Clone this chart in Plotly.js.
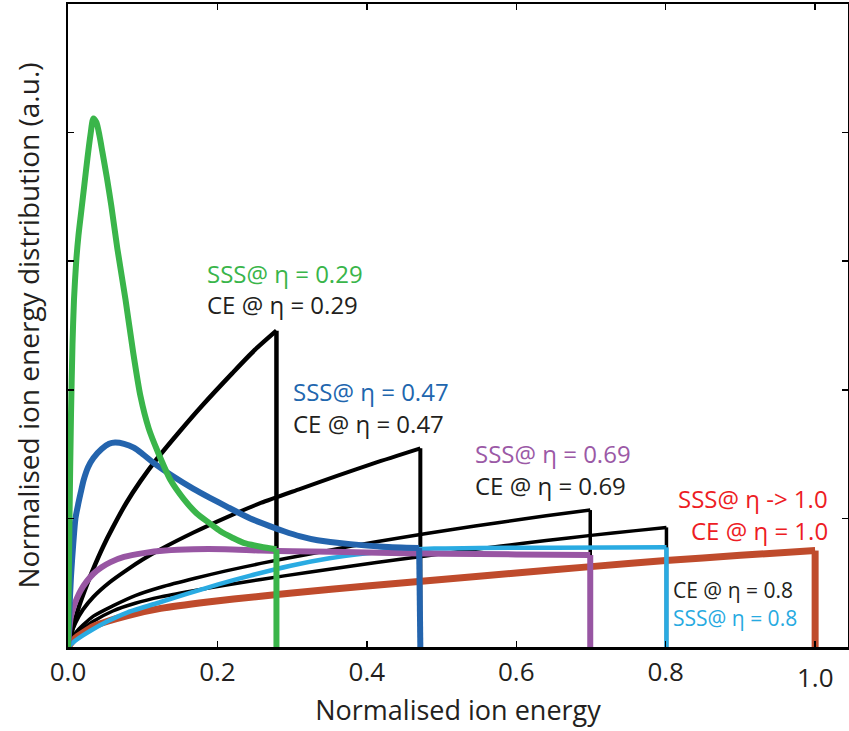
<!DOCTYPE html>
<html>
<head>
<meta charset="utf-8">
<script src="https://cdn.plot.ly/plotly-3.0.1.min.js"></script>
<style>html,body{margin:0;padding:0;background:#fff;}#chart{width:849px;height:731px;}</style>
</head>
<body>
<div id="chart"></div>
<script>
// ---- Data ----
const ce029X = [0, 0.005, 0.015, 0.025, 0.034, 0.047, 0.060, 0.078, 0.097, 0.120, 0.150, 0.180, 0.220, 0.250, 0.279, 0.279];
const ce029Y = [0, 0.12, 0.32, 0.48, 0.61, 0.78, 0.93, 1.12, 1.29, 1.47, 1.68, 1.88, 2.13, 2.31, 2.46, 0];

const ce047X = [0, 0.004, 0.010, 0.020, 0.034, 0.055, 0.079, 0.100, 0.124, 0.168, 0.213, 0.258, 0.311, 0.360, 0.410, 0.4716, 0.4716];
const ce047Y = [0, 0.10, 0.19, 0.29, 0.39, 0.50, 0.60, 0.68, 0.76, 0.89, 1.01, 1.12, 1.23, 1.33, 1.43, 1.545, 0];

const ce069X = [0, 0.004, 0.010, 0.020, 0.034, 0.060, 0.090, 0.124, 0.170, 0.210, 0.258, 0.320, 0.380, 0.445, 0.510, 0.580, 0.640, 0.699, 0.699];
const ce069Y = [0, 0.06, 0.11, 0.17, 0.24, 0.32, 0.40, 0.465, 0.535, 0.59, 0.65, 0.72, 0.785, 0.85, 0.91, 0.97, 1.02, 1.065, 0];

const ce08X = [0, 0.004, 0.010, 0.020, 0.034, 0.060, 0.090, 0.124, 0.170, 0.210, 0.258, 0.320, 0.380, 0.445, 0.512, 0.580, 0.640, 0.700, 0.760, 0.801, 0.801];
const ce08Y = [0, 0.05, 0.09, 0.14, 0.20, 0.28, 0.34, 0.39, 0.44, 0.48, 0.525, 0.58, 0.63, 0.682, 0.734, 0.785, 0.828, 0.868, 0.905, 0.93, 0];

const sss10X = [0, 0.010, 0.020, 0.034, 0.053, 0.080, 0.124, 0.187, 0.258, 0.300, 0.400, 0.500, 0.600, 0.700, 0.800, 0.900, 1.000, 1.000];
const sss10Y = [0, 0.07, 0.11, 0.16, 0.20, 0.245, 0.30, 0.35, 0.395, 0.42, 0.475, 0.525, 0.575, 0.625, 0.672, 0.713, 0.75, 0];

const sss08X = [0, 0.010, 0.020, 0.034, 0.053, 0.080, 0.124, 0.160, 0.200, 0.244, 0.298, 0.350, 0.400, 0.445, 0.490, 0.550, 0.650, 0.801, 0.801];
const sss08Y = [0, 0.05, 0.09, 0.14, 0.20, 0.27, 0.35, 0.415, 0.485, 0.555, 0.632, 0.69, 0.728, 0.752, 0.765, 0.77, 0.772, 0.775, 0];

const sss069X = [0, 0.002, 0.004, 0.008, 0.012, 0.017, 0.025, 0.034, 0.045, 0.057, 0.075, 0.101, 0.130, 0.168, 0.210, 0.258, 0.300, 0.400, 0.500, 0.600, 0.699, 0.699];
const sss069Y = [0, 0.15, 0.24, 0.32, 0.38, 0.44, 0.51, 0.57, 0.62, 0.66, 0.70, 0.73, 0.75, 0.76, 0.76, 0.75, 0.745, 0.735, 0.725, 0.72, 0.715, 0];

const sss047X = [0, 0.002, 0.004, 0.007, 0.010, 0.014, 0.017, 0.021, 0.027, 0.034, 0.045, 0.055, 0.063, 0.075, 0.088, 0.100, 0.115, 0.140, 0.168, 0.190, 0.213, 0.244, 0.270, 0.289, 0.311, 0.334, 0.378, 0.422, 0.470, 0.4716];
const sss047Y = [0, 0.30, 0.55, 0.80, 1.00, 1.12, 1.20, 1.30, 1.40, 1.47, 1.54, 1.58, 1.59, 1.58, 1.55, 1.50, 1.43, 1.33, 1.23, 1.16, 1.09, 1.00, 0.94, 0.90, 0.86, 0.83, 0.80, 0.78, 0.77, 0];

const sss029X = [0, 0.002, 0.004, 0.006, 0.008, 0.011, 0.014, 0.018, 0.022, 0.026, 0.030, 0.034, 0.038, 0.042, 0.046, 0.052, 0.058, 0.066, 0.077, 0.087, 0.097, 0.108, 0.120, 0.137, 0.155, 0.172, 0.190, 0.204, 0.220, 0.235, 0.258, 0.279, 0.279];
const sss029Y = [0, 1.00, 1.80, 2.35, 2.70, 3.00, 3.20, 3.40, 3.60, 3.80, 3.98, 4.11, 4.08, 3.98, 3.85, 3.65, 3.43, 3.10, 2.70, 2.30, 1.95, 1.70, 1.52, 1.30, 1.15, 1.04, 0.96, 0.90, 0.85, 0.81, 0.78, 0.76, 0];

const xTickVals = [0, 0.2, 0.4, 0.6, 0.8, 1.0];
const xTickText = ['0.0', '0.2', '0.4', '0.6', '0.8', ''];
const yTickVals = [1, 2, 3, 4];

const labelTexts = ['SSS@ η = 0.29', 'CE @ η = 0.29', 'SSS@ η = 0.47', 'CE @ η = 0.47',
  'SSS@ η = 0.69', 'CE @ η = 0.69', 'SSS@ η -> 1.0', 'CE @ η = 1.0', 'CE @ η = 0.8', 'SSS@ η = 0.8'];

// ---- Styles ----
const FONT = 'Open Sans, Noto Sans, DejaVu Sans, sans-serif';
function series(x, y, color, width) {
  const n = x.length;
  // smooth curve part, then the sharp vertical cut-off at the maximum energy
  const curve = {x: x.slice(0, n - 1), y: y.slice(0, n - 1), type: 'scatter', mode: 'lines',
    line: {color: color, width: width, shape: 'spline', smoothing: 0.7}, hoverinfo: 'skip', showlegend: false};
  const drop = {x: x.slice(n - 2), y: y.slice(n - 2), type: 'scatter', mode: 'lines',
    line: {color: color, width: width, shape: 'linear'}, hoverinfo: 'skip', showlegend: false};
  return [curve, drop];
}
const traces = [].concat(
  series(ce029X, ce029Y, '#000000', 4.5),
  series(ce047X, ce047Y, '#000000', 4),
  series(ce069X, ce069Y, '#000000', 3.5),
  series(ce08X, ce08Y, '#000000', 3.5),
  series(sss10X, sss10Y, '#BF4B2C', 7),
  series(sss08X, sss08Y, '#2AABE2', 4.5),
  series(sss069X, sss069Y, '#9856A3', 6),
  series(sss047X, sss047Y, '#2464AD', 6),
  series(sss029X, sss029Y, '#3AB54A', 6)
);

const labelPos = [
  {x: 0.185, y: 2.906, c: '#39B54A', a: 'left', s: 24},
  {x: 0.185, y: 2.661, c: '#231F20', a: 'left', s: 24},
  {x: 0.300, y: 1.985, c: '#2166AE', a: 'left', s: 24},
  {x: 0.300, y: 1.740, c: '#231F20', a: 'left', s: 24},
  {x: 0.544, y: 1.503, c: '#9B59A6', a: 'left', s: 24},
  {x: 0.544, y: 1.258, c: '#231F20', a: 'left', s: 24},
  {x: 1.019, y: 1.153, c: '#ED1C24', a: 'right', s: 24},
  {x: 1.018, y: 0.908, c: '#ED1C24', a: 'right', s: 24},
  {x: 0.808, y: 0.440, c: '#231F20', a: 'left', s: 21},
  {x: 0.808, y: 0.222, c: '#27AAE1', a: 'left', s: 21}
];
const annotations = labelTexts.map((t, i) => ({
  x: labelPos[i].x, y: labelPos[i].y, xref: 'x', yref: 'y', text: t, showarrow: false, borderpad: 0,
  xanchor: labelPos[i].a, yanchor: 'middle', font: {family: FONT, size: labelPos[i].s, color: labelPos[i].c}
}));
annotations.push({x: 1.0, y: -0.046, xref: 'x', yref: 'paper', text: '1.0', showarrow: false,
  xanchor: 'center', yanchor: 'middle', font: {family: FONT, size: 26, color: '#231F20'}});

const layout = {
  width: 849, height: 731,
  margin: {l: 68, r: 1, t: 4, b: 84},
  paper_bgcolor: '#ffffff', plot_bgcolor: '#ffffff',
  showlegend: false,
  xaxis: {
    range: [0, 1.044], showgrid: false, zeroline: false,
    showline: true, linecolor: '#000', linewidth: 2.5, mirror: 'ticks',
    ticks: 'inside', ticklen: 6, tickwidth: 1.5, tickcolor: '#000',
    tickvals: xTickVals, ticktext: xTickText,
    tickfont: {family: FONT, size: 26, color: '#231F20'},
    title: {text: 'Normalised ion energy', font: {family: FONT, size: 27, color: '#231F20'}, standoff: 14}
  },
  yaxis: {
    range: [0, 5], showgrid: false, zeroline: false,
    showline: true, linecolor: '#000', linewidth: 2.5, mirror: 'ticks',
    ticks: 'inside', ticklen: 6, tickwidth: 1.5, tickcolor: '#000',
    tickvals: yTickVals, showticklabels: false,
    title: {text: 'Normalised ion energy distribution (a.u.)', font: {family: FONT, size: 28, color: '#231F20'}, standoff: 18}
  },
  annotations: annotations
};

Plotly.newPlot('chart', traces, layout, {displayModeBar: false, staticPlot: true});
</script>
</body>
</html>
